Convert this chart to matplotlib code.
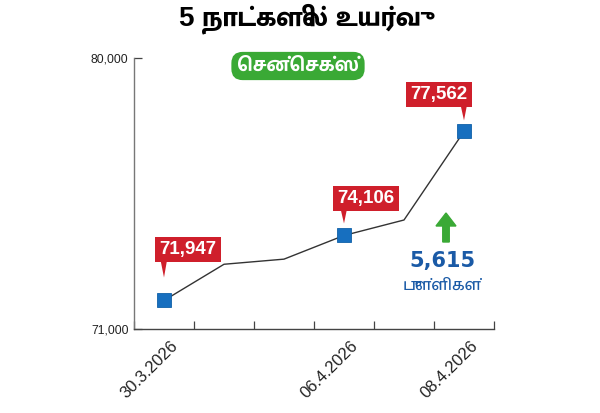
import matplotlib
matplotlib.use("Agg")
import matplotlib.pyplot as plt
import matplotlib.transforms as mtransforms
from matplotlib.patches import Polygon, FancyArrow

dates = ['30.3.2026', '', '', '06.4.2026', '', '08.4.2026']
values = [71947, 73150, 73320, 74106, 74620, 77562]
callouts = ['71,947', '', '', '74,106', '', '77,562']
y_ticks = [71000, 80000]
title = '5 நாட்களில் உயர்வு'
badge = 'சென்செக்ஸ்'
gain = '5,615'
gain_unit = 'புள்ளிகள்'


def visual(s):
    # matplotlib does no Tamil shaping: put the prefix vowel signs
    # (e, ee, ai) in front of their consonant by hand
    out = []
    for ch in s:
        if ch in '\u0bc6\u0bc7\u0bc8' and out:
            out.insert(len(out) - 1, ch)
        else:
            out.append(ch)
    return ''.join(out)


RED = '#cf1f2b'
BLUE = '#176fbf'
GREEN = '#3aa935'
NAVY = '#1a5aa6'
TXT = '#222222'

plt.rcParams['font.family'] = ['Liberation Sans', 'Hind Madurai', 'DejaVu Sans']

fig = plt.figure(figsize=(6, 4.13), dpi=100)
ax = fig.add_axes([134 / 600, 1 - 329 / 413, 360 / 600, 271 / 413])

x = list(range(len(values)))
marked = [i for i, c in enumerate(callouts) if c]
ax.plot(x, values, color='#333333', lw=1.0, zorder=2)
ax.plot([x[i] for i in marked], [values[i] for i in marked], 's', ms=9.5,
        color=BLUE, mec='#1060a8', mew=0.6, zorder=3)

ax.set_xlim(-0.5, len(values) - 0.5)
ax.set_ylim(y_ticks[0], y_ticks[-1])
ax.set_yticks(y_ticks)
ax.set_yticklabels([f'{v:,}' for v in y_ticks], fontsize=8.7, color=TXT)
ax.set_xticks([i - 0.5 for i in range(len(values) + 1)])
ax.set_xticklabels([])
ax.tick_params(axis='both', direction='in', length=5.5,
               color='#444444', width=0.9)
ax.tick_params(axis='y', pad=4)
for s in ['top', 'right']:
    ax.spines[s].set_visible(False)
ax.spines['left'].set_color('#777777')
ax.spines['bottom'].set_color('#444444')
for s in ['left', 'bottom']:
    ax.spines[s].set_linewidth(1.0)

# category labels, centred under their slot and turned 45 degrees
for i, d in enumerate(dates):
    if d:
        ax.annotate(d, (x[i], 0), xycoords=ax.get_xaxis_transform(),
                    xytext=(6, -9), textcoords='offset pixels',
                    rotation=45, ha='right', va='top', rotation_mode='anchor',
                    fontsize=12, color=TXT, annotation_clip=False)

# callouts: (box centre dx, box centre dy, tip dy) in pixels
layout = {0: (24, 51, 23), 3: (22, 37, 12), 5: (-25, 37, 11)}
for i in marked:
    dx, dy, tip = layout[i]
    ax.annotate(callouts[i], (x[i], values[i]), xytext=(dx, dy),
                textcoords='offset pixels', ha='center', va='center',
                fontsize=13.5, fontweight='bold', color='white', zorder=5,
                bbox=dict(boxstyle='square,pad=0.22', fc=RED, ec='none'))
    trans = fig.dpi_scale_trans + mtransforms.ScaledTranslation(x[i], values[i], ax.transData)
    base = (dy - 8) / 100
    ax.add_patch(Polygon([(-0.04, base), (0.035, base), (0, tip / 100)],
                         closed=True, fc=RED, ec='none', transform=trans,
                         clip_on=False, zorder=4))

fig.text(0.5, 1 - 19 / 413, visual(title), ha='center', va='center', fontsize=20,
         fontweight=800, color='black',
         family=['Liberation Sans', 'Mukta Malar', 'DejaVu Sans'])
fig.text(298 / 600, 1 - 66 / 413, visual(badge), ha='center', va='center',
         fontsize=13.5, fontweight='bold', color='white',
         bbox=dict(boxstyle='round,pad=0.3,rounding_size=0.6', fc=GREEN, ec='none'))

fig.patches.append(FancyArrow(4.46, (413 - 242) / 100, 0, 0.29, width=0.065,
                              head_width=0.2, head_length=0.13,
                              length_includes_head=True, color=GREEN,
                              transform=fig.dpi_scale_trans, figure=fig))
fig.text(442 / 600, 1 - 261 / 413, gain, ha='center', va='center',
         fontsize=15, fontweight='bold', color=NAVY, family='DejaVu Sans')
fig.text(442 / 600, 1 - 285 / 413, visual(gain_unit), ha='center', va='center',
         fontsize=11.5, fontweight='medium', color=NAVY)

fig.savefig('out.png', dpi=100, facecolor='white')
